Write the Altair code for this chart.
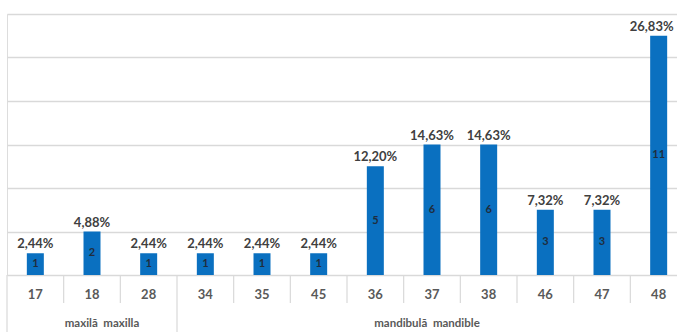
import altair as alt
import pandas as pd

# Teeth (FDI numbering) and number of cases per tooth
teeth = ["17", "18", "28", "34", "35", "45", "36", "37", "38", "46", "47", "48"]
counts = [1, 2, 1, 1, 1, 1, 5, 6, 6, 3, 3, 11]
jaw = ["maxilă\u00a0\u00a0maxilla"] * 3 + ["mandibulă\u00a0\u00a0mandible"] * 9

total = sum(counts)
pct_labels = [f"{c / total * 100:.2f}".replace(".", ",") + "%" for c in counts]

df = pd.DataFrame({"tooth": teeth, "count": counts, "pct": pct_labels, "jaw": jaw})

# Category boundaries for the table-like axis: long dividers start each jaw group
bounds = pd.DataFrame({
    "tooth": teeth,
    "long": [t in ("17", "34") for t in teeth],
})

FONT = "Lato"
BLUE = "#0A70C0"
GRID = "#d9d9d9"
TXT = "#404040"

x_scale = alt.Scale(domain=teeth, range=[0, 680], paddingInner=0, paddingOuter=0)
x_enc = alt.X("tooth:N", scale=x_scale, axis=None, sort=teeth)
y_scale = alt.Scale(domain=[0, 12], nice=False)

base = alt.Chart(df)

bars = base.mark_bar(color=BLUE, width=17).encode(
    x=x_enc,
    y=alt.Y("count:Q", scale=y_scale,
            axis=alt.Axis(values=[0, 2, 4, 6, 8, 10, 12], labels=False, ticks=False,
                          domain=False, grid=True, gridColor=GRID, gridWidth=1.3, title=None)),
)

pct_style = dict(font=FONT, fontWeight="bold", fontSize=13, color=TXT, baseline="alphabetic")

pct_text = base.transform_filter("datum.tooth != '48'").mark_text(dy=-5, **pct_style).encode(
    x=x_enc, y=alt.Y("count:Q", scale=y_scale), text="pct:N"
)

# The tallest bar sits at the right edge, so its label is nudged inward
pct_text_edge = base.transform_filter("datum.tooth == '48'").mark_text(
    dy=-5, dx=-7, **pct_style
).encode(x=x_enc, y=alt.Y("count:Q", scale=y_scale), text="pct:N")

count_text = base.transform_calculate(mid="datum.count / 2").mark_text(
    font=FONT, fontWeight="bold", fontSize=11, color="#1f2d3d", baseline="middle"
).encode(x=x_enc, y=alt.Y("mid:Q", scale=y_scale), text="count:Q")

tick_text = base.mark_text(font=FONT, fontWeight="bold", fontSize=13, color="#595959",
                           baseline="middle").encode(
    x=x_enc, y=alt.value(281), text="tooth:N"
)

short_rules = alt.Chart(bounds).transform_filter("!datum.long").mark_rule(
    color=GRID, strokeWidth=1.2
).encode(
    x=alt.X("tooth:N", scale=x_scale, axis=None, sort=teeth, bandPosition=0),
    y=alt.value(261), y2=alt.value(289),
)

long_rules = alt.Chart(bounds).transform_filter("datum.long").mark_rule(
    color=GRID, strokeWidth=1.2
).encode(
    x=alt.X("tooth:N", scale=x_scale, axis=None, sort=teeth, bandPosition=0),
    y=alt.value(261), y2=alt.value(318),
)

grp_style = dict(font=FONT, fontWeight="bold", fontSize=11.5, color="#595959", baseline="middle")

maxilla_lbl = alt.Chart(df).transform_filter("datum.tooth == '18'").mark_text(
    dx=10, **grp_style
).encode(x=x_enc, y=alt.value(310), text="jaw:N")

mandible_lbl = alt.Chart(df).transform_filter("datum.tooth == '37'").mark_text(
    dx=-5, **grp_style
).encode(x=x_enc, y=alt.value(310), text="jaw:N")

chart = alt.layer(
    bars, pct_text, pct_text_edge, count_text, tick_text, short_rules, long_rules,
    maxilla_lbl, mandible_lbl
).properties(
    width=670,
    height=261,
    autosize=alt.AutoSizeParams(type="none"),
    padding={"left": 7, "top": 14, "right": 0, "bottom": 57},
).configure_view(stroke=None).configure(background="white")

chart.save("out.html", embed_options={"renderer": "svg", "actions": False})
